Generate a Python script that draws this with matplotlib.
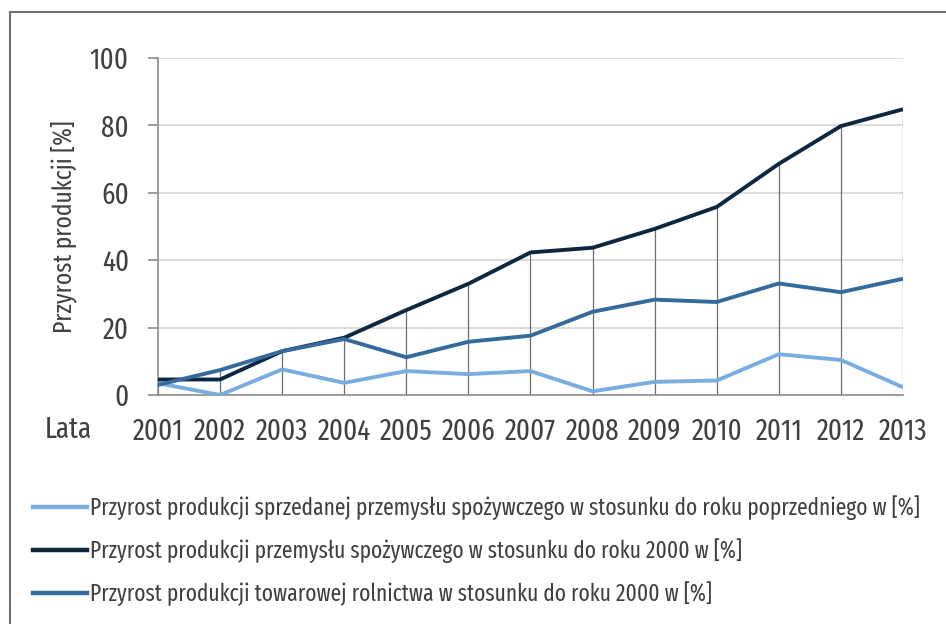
import matplotlib
matplotlib.use("Agg")
import matplotlib.pyplot as plt
from matplotlib.lines import Line2D

plt.rcParams['font.family'] = ['Fira Sans Extra Condensed', 'Roboto Condensed', 'DejaVu Sans']
plt.rcParams['font.weight'] = 'normal'

years = [2001, 2002, 2003, 2004, 2005, 2006, 2007, 2008, 2009, 2010, 2011, 2012, 2013]
sprzedana = [3.5, 0.0, 7.6, 3.6, 7.1, 6.2, 7.1, 1.1, 3.9, 4.3, 12.1, 10.4, 2.3]
przemysl = [4.6, 4.6, 13.0, 17.0, 25.2, 33.0, 42.3, 43.7, 49.3, 55.8, 68.6, 79.8, 84.8]
rolnictwo = [3.0, 7.4, 13.0, 16.6, 11.2, 15.8, 17.6, 24.7, 28.3, 27.6, 33.1, 30.5, 34.5]

labels = [
    "Przyrost produkcji sprzedanej przemysłu spożywczego w stosunku do roku poprzedniego w [%]",
    "Przyrost produkcji przemysłu spożywczego w stosunku do roku 2000 w [%]",
    "Przyrost produkcji towarowej rolnictwa w stosunku do roku 2000 w [%]",
]
colors = ["#7aaddf", "#0c2740", "#356a9c"]
txt = "#404040"

fig = plt.figure(figsize=(9.46, 6.24), dpi=100)
ax = fig.add_axes([0.167, 0.367, 0.7875, 0.54])

# drop lines from the top series down to the axis
tops = [max(a, b, c) for a, b, c in zip(sprzedana, przemysl, rolnictwo)]
ax.vlines(years, 0, tops, color="#6e6e6e", lw=0.9, zorder=2)

for vals, c in zip([sprzedana, przemysl, rolnictwo], colors):
    ax.plot(years, vals, color=c, lw=2.8, solid_capstyle="butt", zorder=3)

ax.set_xlim(2001, 2013)
ax.set_ylim(0, 100)
ax.set_yticks(range(0, 101, 20))
ax.set_xticks(years)
ax.yaxis.grid(True, color="#d9d9d9", lw=1.3)
ax.set_axisbelow(True)
for s in ["top", "right"]:
    ax.spines[s].set_visible(False)
for s in ["left", "bottom"]:
    ax.spines[s].set_color("#8c8c8c")
    ax.spines[s].set_linewidth(1.2)
ax.tick_params(axis="y", length=7, width=1.2, color="#8c8c8c", labelsize=21, labelcolor=txt, pad=14)
ax.tick_params(axis="x", length=0, labelsize=21, labelcolor=txt, pad=16)
ax.set_ylabel("Przyrost produkcji [%]", fontsize=18.5, color=txt, labelpad=9, fontweight="normal")
fig.text(0.072, 0.311, "Lata", fontsize=21, color=txt, ha="center", va="center")

handles = [Line2D([], [], color=c, lw=3.2) for c in colors]
fig.legend(handles, labels, loc="upper left", bbox_to_anchor=(0.035, 0.206),
           frameon=False, fontsize=16.8, handlelength=2.3, handletextpad=0.12,
           labelspacing=0.78, borderpad=0, borderaxespad=0, labelcolor=txt)

# outer frame: left and top edges
fig.add_artist(Line2D([0.011, 0.011], [0, 0.981], color="#707070", lw=1.5, transform=fig.transFigure))
fig.add_artist(Line2D([0.011, 1], [0.981, 0.981], color="#707070", lw=1.5, transform=fig.transFigure))

fig.savefig("out.png", dpi=100)
